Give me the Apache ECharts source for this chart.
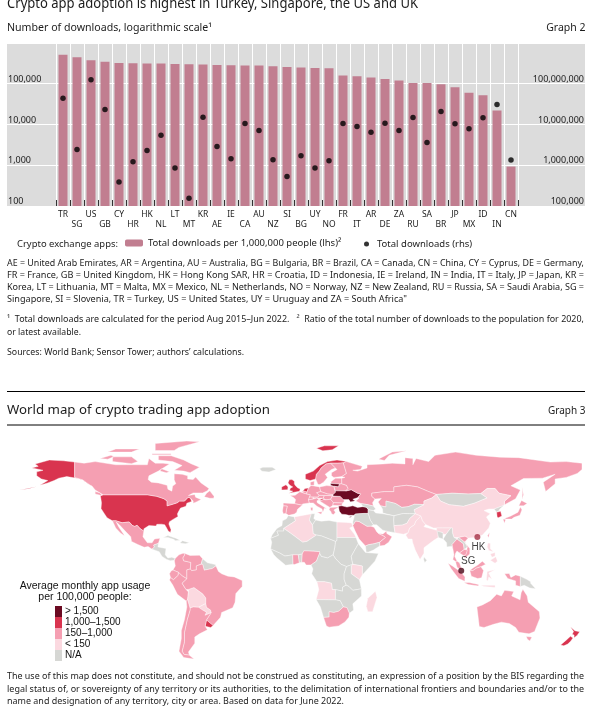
<!DOCTYPE html>
<html><head><meta charset="utf-8">
<style>html,body{margin:0;padding:0;background:#fff}#c{width:600px;height:713px}</style>
<script src="https://cdn.jsdelivr.net/npm/echarts@6/dist/echarts.min.js"></script>
</head><body><div id="c"></div>
<script>
const categories=['TR','SG','US','GB','CY','HR','HK','NL','LT','MT','KR','AE','IE','CA','AU','NZ','SI','BG','UY','NO','FR','IT','AR','DE','ZA','RU','SA','BR','JP','MX','ID','IN','CN'];
const perMillion=[518000,445000,376000,349000,324000,318000,312000,312000,306000,300000,295000,289000,284000,279000,279000,268000,258000,249000,244000,240000,159000,153000,142000,131000,120000,105000,105000,97000,82000,60000,52000,22000,930];
const totalDownloads=[44200000,2440000,126000000,23300000,387000,1220000,2310000,5480000,853000,154000,15100000,2890000,1440000,10600000,7130000,1360000,533000,1710000,853000,1290000,10600000,8900000,6490000,10800000,7130000,14800000,3620000,20800000,10400000,7830000,14600000,30900000,1340000];
const lhsTicks={100:'100',1000:'1,000',10000:'10,000',100000:'100,000'};
const rhsTicks={100000:'100,000',1000000:'1,000,000',10000000:'10,000,000',100000000:'100,000,000'};
const barName='Total downloads per 1,000,000 people (lhs)²';
const dotName='Total downloads (rhs)';
const usageClasses=[
 {value:4,label:'> 1,500',color:'#6b0a22'},
 {value:3,label:'1,000–1,500',color:'#d9344f'},
 {value:2,label:'150–1,000',color:'#f59fb2'},
 {value:1,label:'< 150',color:'#fbd9e0'},
 {value:0,label:'N/A',color:'#d6d7d4'}];
const labelledCities=[{name:'HK',value:[113.8,22.2],color:'#a52f45',labelPos:'bottom',labelOffset:[1,0]},{name:'SG',value:[103.6,0.9],color:'#4a0515',labelPos:'top',labelOffset:[7,0]}];
// [name, usage class, rings as "lon,lat ..." split by |]
const countries=[
['United States',3,'-168,66 -164,67 -166,68.5 -157,71 -148,70.5 -141,69.7 -141,60 -136,58.5 -131,55 -133,57 -137,59 -146,60.5 -151,59.5 -154,58 -158,56.5 -163,55 -158,58 -162,59 -165,61 -165,63.5 -161,64.5|-124.7,48.4 -123,49 -95,49 -89,48 -84.5,46.5 -82.5,45 -82.5,42 -79,43 -76,44 -74.7,45 -71.5,45 -69.2,47.4 -67.8,47 -67,44.8 -70,43.7 -70.6,41.7 -74,40.6 -75.5,38 -76,36.8 -75.6,35.2 -78,33.9 -81,32 -81.4,30.5 -80,26.8 -80.4,25.2 -81.8,26 -82.8,28 -84,30 -86,30.4 -89,30.3 -89.5,29.2 -94,29.5 -97.2,27.5 -97.2,26 -99.5,27.5 -101.5,29.7 -103,29 -104.5,29.6 -106.5,31.8 -111,31.3 -114.8,32.5 -117.1,32.5 -120.5,34.5 -122.5,37.5 -124.3,40.3 -124,44|-176,52 -170,52.8 -165,54.2 -170,53.2'],
['Canada',2,'-141,69.7 -135,69 -128,70 -115,68 -108,68 -95,68 -94,72 -90,69 -85,69 -81,68.5 -88,64 -94,61 -94.5,58.7 -92.5,57 -88,56.5 -82.5,55 -82,52.5 -79.5,51.3 -79,54.5 -77,56 -78,58.5 -78,62.3 -73,62 -69.5,61 -69.5,59 -66,58.7 -64.5,60.3 -61,56.5 -56,53 -57,51.5 -60,50.2 -66,50.2 -69,48.5 -65,49.2 -64.5,47.5 -61,46 -64,44.5 -66,43.6 -66,45 -67.8,47 -69.2,47.4 -71.5,45 -74.7,45 -76,44 -79,43 -82.5,42 -82.5,45 -84.5,46.5 -89,48 -95,49 -123,49 -128,52 -130,54.5 -131,55 -136,58.5 -141,60|-59,47.7 -55.5,46.8 -53,46.8 -52.8,48 -55.5,51.5 -57.5,50|-62,66.5 -68,63 -72,64 -78,64.5 -73,67.5 -79,70 -88,71 -88,73.7 -80,73.7 -72,71 -67,68.5|-117,70 -105,68.7 -101,70 -105,73 -117,73|-125,72 -118,74 -116,73.2 -120,71.5|-90,77 -78,77 -75,79 -62,82.5 -70,83 -90,81.5|-92,75 -80,75 -80,74.3 -92,74.3|-120,76 -105,76 -100,78 -115,78|-128,49.5 -123.5,48.4 -125,50.3 -128,51|-86,65.5 -81,63.5 -83,63 -87,64'],
['Mexico',2,'-117.1,32.5 -114.8,32.5 -111,31.3 -106.5,31.8 -104.5,29.6 -103,29 -101.5,29.7 -99.5,27.5 -97.2,26 -97.8,22.5 -95,18.6 -92,18.6 -90.5,21 -87,21.5 -88,18.3 -89,17.9 -91,17.2 -90.5,16 -92,14.6 -94.5,16.2 -97,15.8 -101,17.5 -105,19.5 -105.5,22.5 -109,26 -112.7,30 -114.7,31.7 -113,28.5 -110,24 -109.5,23 -112,24.8 -115,28'],
['Central America',0,'-92,14.6 -90.5,16 -91,17.2 -89,17.9 -88,18.3 -88.3,16 -83.2,15 -83.7,11 -82,9 -79.5,9.5 -77.4,8.7 -78,7.5 -80.5,7.3 -83,8.2 -85.7,10 -87.5,13'],
['Caribbean',0,'-85,22 -82,23.2 -77,21.5 -74.2,20.2 -77.5,19.9 -78,20.7 -82,22|-74.4,18.5 -72.8,19.9 -68.4,18.7 -71,18'],
['Colombia',2,'-77.4,8.7 -75,11 -72,12.2 -71.3,11 -72.5,9 -72,7.2 -67.5,6.2 -67.8,2 -70,1.5 -70,-4.2 -73,-2.3 -75.3,-0.1 -78.8,1.4 -77.3,4 -77.9,7.2'],
['Venezuela',2,'-72,12.2 -68,10.6 -62,10.7 -60,8.5 -61,5 -64,4 -64,1.4 -67,1 -67.8,2 -67.5,6.2 -72,7.2 -72.5,9 -71.3,11'],
['Guianas',0,'-60,8.5 -57,6 -52,4.8 -51.6,4 -54,2.3 -59,1.3 -60,5 -61,5'],
['Ecuador',2,'-78.8,1.4 -75.3,-0.1 -75.5,-2 -78.5,-4.8 -80.3,-3.4 -81,-1 -80,0.8'],
['Peru',2,'-81,-5 -80.3,-3.4 -78.5,-4.8 -75.5,-2 -75.3,-0.1 -73,-2.3 -70,-4.2 -73,-7 -70.5,-11 -69,-12.5 -69.5,-17.5 -70.4,-18.3 -76,-14 -79,-8'],
['Bolivia',1,'-69,-10.9 -65.5,-9.7 -60,-13.7 -58,-16.3 -58,-19.8 -62.6,-22.2 -66,-22 -68,-22.7 -69.5,-17.5 -69,-12.5'],
['Paraguay',1,'-58,-19.8 -57.6,-22.2 -55,-24 -54.6,-25.6 -58.5,-27.3 -57.6,-25.3 -60,-24 -62.6,-22.2'],
['Brazil',2,'-51.6,4 -50,0.5 -48,-1 -44,-2.5 -40,-3 -35,-5.3 -35,-9 -39,-13.5 -39.5,-19 -41,-22.5 -48,-25.5 -48.7,-28.5 -53.4,-33.8 -57.6,-30.2 -54.6,-25.6 -55,-24 -57.6,-22.2 -58,-19.8 -58,-16.3 -60,-13.7 -65.5,-9.7 -69,-10.9 -70.5,-11 -73,-7 -70,-4.2 -70,1.5 -67.8,2 -67,1 -64,1.4 -64,4 -61,5 -60,5 -59,1.3 -54,2.3'],
['Uruguay',3,'-57.6,-30.2 -53.4,-33.8 -54.9,-35 -58.4,-34.2'],
['Argentina',2,'-66,-22 -62.6,-22.2 -60,-24 -57.6,-25.3 -58.5,-27.3 -54.6,-25.6 -57.6,-30.2 -58.4,-34.2 -57,-36.5 -62,-39 -65,-41 -65,-45 -69,-50.5 -68.4,-52.5 -71.8,-52 -73,-50 -71.5,-44 -71.5,-38 -69.8,-30 -68,-24 -68,-22.7'],
['Chile',2,'-70.4,-18.3 -69.5,-17.5 -68,-22.7 -68,-24 -69.8,-30 -71.5,-38 -71.5,-44 -73,-50 -71.8,-52 -68.4,-52.5 -65.5,-55 -72,-54 -75,-50 -73.5,-42 -73.5,-37 -71.5,-30 -70,-22'],
['Iceland',0,'-24,65.5 -22,66.4 -16,66.5 -13.6,65 -18,63.4 -22.5,63.9'],
['United Kingdom',3,'-5.5,50 1.3,51.2 1.7,52.7 0,53.5 -1.5,55 -2,56 -2,57.6 -3.5,58.6 -5.2,58.5 -6,56.5 -4.8,55 -3,54 -4.5,53.2 -5,51.7 -3,51.3'],
['Ireland',3,'-10,52 -6.2,52.2 -6,54 -5.5,54.6 -7.3,55.3 -10,54'],
['France',2,'-4.7,48.5 -1.5,48.7 1.5,50.9 4.2,50 8.2,49 7.6,47.6 7,45.9 7.5,43.8 3.2,43.2 3,42.4 -1.8,43.4 -1.2,46 -2.5,47.3'],
['Spain',2,'-9,43.8 -1.8,43.4 3,42.4 0,39.8 -0.5,38 -2,36.8 -5.5,36 -7.4,37.2 -7,39.5 -6.5,41.8 -9,42'],
['Portugal',2,'-9,42 -6.5,41.8 -7,39.5 -7.4,37.2 -9,37 -9.5,38.8'],
['Belgium',2,'2.5,51 4.2,51.4 6,50.8 5.8,49.5 4.2,50'],
['Netherlands',3,'3.4,51.4 4.7,53 7,53.3 6,50.8 4.2,51.4'],
['Germany',2,'7,53.3 8.6,54.9 14,54 14.7,51 12.1,50.3 13.7,48.7 13,47.5 7.6,47.6 8.2,49 5.8,49.5 6,50.8'],
['Denmark',2,'8.2,55 8.1,57 10.6,57.7 10.5,55'],
['Switzerland',2,'7.6,47.6 10,47.5 9.6,46.2 7,45.9'],
['Austria',2,'10,47.5 13,47.5 13.7,48.7 17,48.6 16.3,46.8 10,46.8'],
['Italy',2,'7,45.9 9.6,46.2 12.3,47 13.7,45.7 12.3,45.2 12.5,44 15.8,41.9 18.5,40.2 17,40.5 16.5,39 16,38 15.5,40 12.3,41.8 10,43.8 7.5,43.8|12.5,38 15.6,38.2 15,36.7|8.3,41 9.7,41 9.6,39 8.5,39'],
['Poland',2,'14,54 18.5,54.8 23,54.4 24,50.5 22.5,49.1 19,49.5 14.7,51'],
['Czechia and Slovakia',2,'12.1,50.3 14.7,51 19,49.5 22.5,49.1 22,48.4 17,48.6 13.7,48.7'],
['Hungary',2,'16.3,46.8 17,48.6 22,48.4 21,46.2 18,45.8'],
['Slovenia',3,'13.7,45.7 16.3,46.8 16.5,46 15,45.4'],
['Western Balkans',2,'13.7,45.5 15,45.4 16.5,46 18,45.8 21,46.2 22.7,44.3 22.4,42.3 20.5,41 19.3,41.8 18,42.6 15,44.5'],
['Romania and Moldova',2,'21,46.2 22,48 27,48 29,46 29.7,45 28.6,43.8 22.7,44'],
['Bulgaria',2,'22.7,44 28.6,43.8 27.8,42 22.4,42.3'],
['Greece',2,'20,39.5 20.5,41 26.2,41.3 24,40 23,39.3 24,38 23,36.5 21.7,36.8 21,38.5'],
['Turkey',4,'26.2,40 26,41.8 28,42 31.3,41.2 35,42 38,41 41.5,41.5 43.6,41.1 44.7,39.7 44.7,37.2 42,37.2 36.5,36.8 36,36 32.5,36 30.5,36.5 28,36.7 26.5,38.5'],
['Cyprus',4,'32.3,34.7 34.5,35.6 33.8,34.8'],
['Norway',3,'5,59 5,62 10,64 14,67.5 19,70 25,71 31,70 29,69.2 25.5,69 21,69 18,68.5 15,66 13.8,64 12,62 11.5,59 8,58|12,78.5 17,80 26,80 22,77.5 16,76.8'],
['Sweden',2,'11.5,59 12,62 13.8,64 15,66 18,68.5 21,69 24,66 21.5,65 17.5,62 19,60 16.5,57 14.2,55.5 13,55.5'],
['Finland',2,'21,69 25.5,69 29,69.2 31,62.5 28,60.5 23,60 21.5,61 21.5,63 25,65 24,66'],
['Estonia and Latvia',2,'21,56.2 21.5,57.5 24,59.5 28,59.5 28,56 26.5,55.8'],
['Lithuania',4,'21,56.2 26.5,55.8 26,54 23,54.4 21,55'],
['Belarus',2,'23,54.4 26,54 26.5,55.8 28,56 31,55 32,53 30.5,51.4 24,51.5'],
['Ukraine',4,'24,51.5 30.5,51.4 34,52.2 38,50 40,49.6 38.2,47.2 35,46.2 36.5,45.3 33.5,44.5 32.5,46 30.5,46 29,46 27,48 22.5,48.2 22.5,49.1 24,50.5'],
['Russia',2,'28,59.5 30,60 28,60.5 31,62.5 29,69.2 31,70 41,67 40,65 35,64.5 38,64 44,66 44,68 54,68.5 60,69 68,68.5 68,72.5 73,72 73,68 75,72 83,70 87,74 100,76 113,74 128,72.8 140,72.5 160,69.7 170,70 180,69 180,65 177,62.5 170,60 163,59 163,56 157,51 155.5,57 163,62 155,59.5 143,59.3 135,54.7 141,52 138,46.5 131,42.7 130.7,42.3 131,45 135,48.4 127.5,50 125,53 120,53 116,49.8 108,49.5 98,50 87.8,49.2 83,51 76,54 69,55 61,54 61,51 55,51 47,50 47,48 49,46.3 47.5,44 48,41.9 44,42.8 40,43.5 37,45 39,47 38.2,47.2 40,49.6 38,50 34,52.2 30.5,51.4 32,53 31,55 28,56|142,54 143,49 142,46 142.3,50|51.5,71.5 55,70.7 58,74 69,76.8 60,76 52,72'],
['Kazakhstan',2,'47,50 55,51 61,51 61,54 69,55 76,54 83,51 87.8,49.2 85,47 80,45 80,42.8 74,43 70,41.5 66,41 62,43.5 56,45 56,41.3 52.5,42 51,44.5 53,46.7 49,46.3 47,48'],
['Mongolia',0,'87.8,49.2 98,50 108,49.5 116,49.8 120,47 112,43.7 105,41.7 96,42.7 90.5,45'],
['China',1,'73.7,39.5 80,42.8 80,45 85,47 87.8,49.2 90.5,45 96,42.7 105,41.7 112,43.7 120,47 116,49.8 120,53 125,53 127.5,50 135,48.4 131,45 130.7,42.3 124.4,40 121,40 118,39 122,37 119.5,35 122,31 121,28 117,23.5 113,22 108,21.6 106,22.8 102,22 99,22 98,25 98,28 92,28 86,28 81,30.2 79,32.5 78,35.5 74.5,37'],
['Taiwan',2,'120.2,23 121.5,25.2 121,22'],
['North Korea',0,'124.4,40 130.7,42.3 128,40 127.5,39 126,38'],
['South Korea',3,'126,38 128.5,38.5 129.3,35.5 127,34.5 126.3,35'],
['Japan',2,'130.9,34 135,35.6 139.5,38 141,41.3 142,39.5 140.7,36 137,34.7 135.5,33.6 132,33.6|140,42 141.7,45.4 145.3,43.5 143,42|130,33.5 131.7,33.5 131,31'],
['Central Asia',0,'52.5,42 56,41.3 56,45 62,43.5 66,41 70,41.5 74,43 80,42.8 73.7,39.5 74.5,37 71,37 67,37.2 61,35.7 54,37.4 53.8,40'],
['Afghanistan',0,'61,35.7 67,37.2 71,37 74.5,37 71,34 69.3,31 66.3,29.8 61,29.5 60.8,33'],
['Iran',0,'44.7,39.7 48,39 49.5,37.5 54,37 54,37.4 61,35.7 60.8,33 61,29.5 61.7,25 57,25.8 54,26.6 50,30 48,30 46,33 44.7,37.2'],
['Caucasus',0,'40,43.5 44,42.8 48,41.9 49.5,40 48,39 44.7,39.7 43.6,41.1 41.5,41.5'],
['Levant and Iraq',0,'36,36 36.5,36.8 42,37.2 44.7,37.2 46,33 48,30 46.5,29.1 44,29 39,32 36.8,32.3 35,29.5 35,32 35.8,34.7'],
['Saudi Arabia',2,'35,29.5 36.8,32.3 39,32 44,29 46.5,29.1 48.4,28.5 50.2,25.5 51.3,24.5 55,22.7 55.7,22 52,19 48.5,18 45,17.4 43,16.6 42.5,16.6 39,21 36.5,26'],
['UAE and Oman',2,'51.3,24.5 54,24.2 56.3,26 56.5,24.5 59.8,22.5 57.7,19 55,17 52,16.6 52,19 55.7,22 55,22.7'],
['Yemen',0,'43,16.6 45,17.4 48.5,18 52,19 52,16.6 48,14 45,12.8 43.5,12.7'],
['Pakistan',1,'61,29.5 66.3,29.8 69.3,31 71,34 74.5,37 78,35.5 75,32.5 74,30 71,28 70,25 67,24 61.7,25'],
['India',1,'68.5,23.5 70,25 71,28 74,30 75,32.5 78,35.5 79,32.5 81,30.2 80,28.8 88,26.5 88,28 92,28 97,28 94,24 92,24 92,25 89,25.5 89,22 86,20 80,15.5 80,12 77.5,8 74.5,14 72.8,19 72.5,21 70,21'],
['Bangladesh',0,'88.3,26 92,25 92,21 89.2,22'],
['Sri Lanka',0,'80,9.7 81.8,7.5 80.5,6 79.8,8'],
['Myanmar',0,'92.2,21 94,24 97,28 98,28 98,25 99,22 101,21 100,20 97.8,17.5 99,11 98.5,14 97.5,16.5 94.5,16 94.3,18.7'],
['Thailand',2,'101,21 105,18 105.5,14.4 102.5,12.2 100.9,13.4 100,12 99.5,10 101,7 100,6.7 98.3,8 99,11 97.8,17.5 100,20'],
['Laos',0,'101,21 102,22 106,19 107.5,16 105.5,14.4 105,18'],
['Vietnam',2,'102,22 106,22.8 108,21.6 105.7,19 109,15 109,11.5 106,9 105,10 106.5,11.5 107.5,16 106,19'],
['Cambodia',2,'102.5,12.2 105.5,14.4 107.5,14 106.5,11 105,10.5'],
['Malaysia',2,'100,6.7 101,7 102.5,6 103.5,3 104.2,1.4 101,3 100.4,5|109,1 111,2.7 114,4.5 117,7 119,5 116,3.5 113,2.5 111,1'],
['Indonesia',2,'95.3,5.6 98,4 103.5,0 106,-3 105.8,-5.8 102,-4 100,-1.5 97,2.5|105.3,-6.5 108.5,-6.5 114.5,-7.8 114.5,-8.7 108,-7.8|109,1 111,1 113,2.5 116,3.5 117.7,1 116.5,-3.5 114,-4 110,-2.5|131,-1 134,-0.8 135,-3.3 138,-1.7 141,-2.6 141,-9.1 138,-8.2 138,-5.5 133,-4'],
['Sulawesi and Timor',1,'119.5,-5 120,0.5 125,1.5 121,-0.5 123,-4.5 121,-3 120.5,-5.5|116,-8.3 125,-8.3 125,-9.7 118,-9'],
['Philippines',1,'120.5,18.5 122,18.3 122,14.8 124,13 121,13.8 120,16|122,7.5 125.5,9.8 126.5,7 125,5.7|122,11.5 125,12.5 125,10.2 123,9.5'],
['Papua New Guinea',0,'141,-2.6 145,-4.5 147.5,-6 147.5,-7 150.7,-10.5 147,-10 143.5,-8.3 141,-9.1'],
['Australia',2,'113.5,-22 114,-26 115,-34.3 118,-35 124,-33 129,-31.6 134,-32.5 138,-35 140,-38 146.5,-39 150,-37.5 153.4,-29 153,-25 149.5,-22 146,-19 145.3,-15 142.6,-10.8 141.5,-13 140.8,-17.5 135.5,-15 136.8,-12.2 131,-11.5 129,-15 126,-14 122,-18 117,-20.7|144.7,-40.7 148.3,-41 147,-43.5 145.5,-42.5'],
['New Zealand',3,'172.7,-34.5 175.5,-37 178.5,-37.7 176.9,-40 175,-41.5 175,-39.8 173.8,-39.3 174.7,-37.5|172.7,-40.5 174.3,-41.7 172.8,-43.7 171,-45.5 168.5,-46.6 166.5,-46 170,-43'],
['Morocco',0,'-5.9,35.8 -2,35 -1.3,32.5 -8.7,27.7 -8.7,26 -13,26 -12,23.4 -17,21.4 -16,23.7 -13,27.7 -9.8,29.5 -9.5,32.5 -7,33.8'],
['Algeria',1,'-2,35 9,37 8.6,36.5 7.5,33 9.5,30 10,24.5 12,23.5 6,19.5 3.3,19 -4.8,25 -8.7,27.7 -1.3,32.5'],
['Tunisia',0,'9,37 11,37 10.3,34 11.5,33 9.5,30 7.5,33 8.6,36.5'],
['Libya',0,'11.5,33 15,32.3 20,32.8 25,31.7 25,20 24,19.5 15,23 12,23.5 10,24.5 9.5,30'],
['Egypt',1,'25,31.7 31,31.5 34.2,31.2 35,29 33,28 36,24 37,22 25,22'],
['Sudan',0,'25,22 37,22 38.5,18 36.5,14.5 34,10 35,5 31,3.6 27.5,5 24,8.7 22.5,11 23.5,15.5 24,19.5 25,20'],
['Sahel',0,'-17,21.4 -12,23.4 -13,26 -8.7,26 -8.7,27.7 -4.8,25 3.3,19 6,19.5 12,23.5 15,23 24,19.5 23.5,15.5 22.5,11 19,9 15,10 14,12 14,13 10,13.3 4,13.5 3,11.5 0.5,11 -3,11 -8,10.2 -11,12 -17,14.7 -16.3,19'],
['West Coast',0,'-17,14.7 -11,12 -8,10.2 -3,11 -2.8,5 -7.5,4.4 -13,9 -15,11'],
['Ghana',2,'-3,11 0.5,11 1.2,6 -2,4.8 -2.8,5'],
['Togo and Benin',0,'0.5,11 3,11.5 2.7,6.3 1.2,6'],
['Nigeria',2,'2.7,6.3 3,11.5 4,13.5 10,13.3 14,13 14,12 12,7 8.6,4.6 5.5,4.5 4.3,6.3'],
['Central Africa',0,'8.6,4.6 12,7 14,12 15,10 19,9 22.5,11 24,8.7 27.5,5 31,3.6 29.5,-1 29.5,-4.5 30.8,-8.2 28.5,-9.5 28.5,-12 24,-11 22,-11 21.5,-7 17,-6 12.3,-6 11,-4 9,-1 9.8,2'],
['Horn of Africa',0,'38.5,18 43,12.5 51.2,11.8 49,7 41,-1.7 41,3.9 35,5 34,10 36.5,14.5'],
['Kenya',1,'35,5 41,3.9 41,-1.7 39.2,-4.7 34,-1 34,4'],
['East Africa',0,'31,3.6 35,5 34,4 34,-1 39.2,-4.7 40.4,-10.5 35,-11.5 32.5,-9 30.8,-8.2 29.5,-4.5 29.5,-1'],
['Angola',1,'12.3,-6 17,-6 21.5,-7 22,-11 24,-11 24,-17.5 11.8,-17.3 13.5,-11'],
['Southeast Africa',0,'28.5,-9.5 30.8,-8.2 32.5,-9 35,-11.5 40.4,-10.5 40.5,-15 35,-20 35.5,-24 32.8,-26 31.3,-22.4 29,-22 27,-18 24,-17.5 24,-11 28.5,-12'],
['Namibia and Botswana',0,'11.8,-17.3 24,-17.5 27,-18 29,-22 26,-24.7 23,-25.5 20,-25 20,-28.4 16.5,-28.6 14.5,-22'],
['South Africa',2,'16.5,-28.6 20,-28.4 20,-25 23,-25.5 26,-24.7 29,-22 31.3,-22.4 32.8,-26 32.5,-28.5 30,-31.5 26,-34 20,-34.8 18.3,-34'],
['Madagascar',1,'49.3,-12 50.3,-16 47.5,-25 44.5,-25 43.5,-21.5 44.5,-16.5']
];
const legendNoteLines=[
['AE = United Arab Emirates, AR = Argentina, AU = Australia, BG = Bulgaria, BR = Brazil, CA = Canada, CN = China, CY = Cyprus, DE = Germany,',577,263.5],
['FR = France, GB = United Kingdom, HK = Hong Kong SAR, HR = Croatia, ID = Indonesia, IE = Ireland, IN = India, IT = Italy, JP = Japan, KR =',577,275.5],
['Korea, LT = Lithuania, MT = Malta, MX = Mexico, NL = Netherlands, NO = Norway, NZ = New Zealand, RU = Russia, SA = Saudi Arabia, SG =',577,287],
['Singapore, SI = Slovenia, TR = Turkey, US = United States, UY = Uruguay and ZA = South Africa"',400,299],
['¹  Total downloads are calculated for the period Aug 2015–Jun 2022.   ²  Ratio of the total number of downloads to the population for 2020,',577,319.5],
['or latest available.',74,332.5],
['Sources: World Bank; Sensor Tower; authors’ calculations.',237,352],
['The use of this map does not constitute, and should not be construed as constituting, an expression of a position by the BIS regarding the',577,676],
['legal status of, or sovereignty of any territory or its authorities, to the delimitation of international frontiers and boundaries and/or to the',577,689],
['name and designation of any territory, city or area. Based on data for June 2022.',337,701.5]];

const FONT='"Noto Sans"';
const ctx=document.createElement('canvas').getContext('2d');
function fit(text,x,y,size,w){ctx.font=size+'px '+FONT;const m=ctx.measureText(text).width;
 return {type:'text',x:x,y:y,scaleX:w?w/m:1,silent:true,style:{text:text,font:size+'px '+FONT,fill:'#1c1c1c',verticalAlign:'middle',align:'left'}};}
function right(text,x,y,size){return {type:'text',x:x,y:y,silent:true,style:{text:text,font:size+'px '+FONT,fill:'#1c1c1c',verticalAlign:'middle',align:'right'}};}
function rule(y){return {type:'line',silent:true,shape:{x1:7,y1:y,x2:585,y2:y},style:{stroke:'#000',lineWidth:1}};}

const features=countries.map(c=>({type:'Feature',properties:{name:c[0]},geometry:{type:'MultiPolygon',
 coordinates:c[2].split('|').map(r=>{const p=r.trim().split(/\s+/).map(s=>s.split(',').map(Number));p.push(p[0]);return [p];})}}));
echarts.registerMap('world',{type:'FeatureCollection',features:features});

const chart=echarts.init(document.getElementById('c'),null,{renderer:'canvas'});
const graphics=[
 fit('Crypto app adoption is highest in Turkey, Singapore, the US and UK',7,4.5,14,411),
 fit('Number of downloads, logarithmic scale¹',7,28,10.5,205),
 right('Graph 2',585.5,28,10.5),
 fit('Crypto exchange apps:',17,244.5,9.5,101),
 rule(391.5),rule(425),
 fit('World map of crypto trading app adoption',7,410.5,13,263),
 right('Graph 3',585.5,411,10),
 {type:'text',x:85,y:586,silent:true,style:{text:'Average monthly app usage',font:'10.5px "Liberation Sans"',fill:'#111',align:'center',verticalAlign:'middle'}},
 {type:'text',x:85,y:597,silent:true,style:{text:'per 100,000 people:',font:'10.5px "Liberation Sans"',fill:'#111',align:'center',verticalAlign:'middle'}}
].concat(legendNoteLines.map(l=>fit(l[0],7,l[2],9,l[1])));

const legendText={fontFamily:FONT,fontSize:9.5,color:'#1c1c1c'};
chart.setOption({
 animation:false,
 backgroundColor:'#fff',
 graphic:{elements:graphics},
 legend:[
  {left:125,top:238,itemWidth:18,itemHeight:7,data:[barName],textStyle:legendText,selectedMode:false,padding:0},
  {left:364,top:239,itemWidth:5,itemHeight:5,data:[{name:dotName,icon:'circle',itemStyle:{color:'#000'}}],
   textStyle:Object.assign({padding:[0,0,0,3]},legendText),selectedMode:false,padding:0}],
 grid:[
  {left:7,top:43,width:578,height:163,show:true,backgroundColor:'#dcdcdc',borderWidth:0},
  {left:56,top:43,width:462,height:163}],
 xAxis:[
  {gridIndex:0,type:'value',min:0,max:1,show:false},
  {gridIndex:1,type:'category',data:categories,boundaryGap:true,
   axisLine:{show:false},axisTick:{show:true,inside:true,length:6,lineStyle:{color:'#333',width:1},alignWithLabel:false,interval:0},
   splitLine:{show:true,interval:0,lineStyle:{color:'#fff',width:1}},
   axisLabel:{interval:0,margin:3,fontFamily:FONT,fontSize:8.5,lineHeight:10.5,color:'#1c1c1c',hideOverlap:false,
    formatter:(v,i)=>i%2?'\n'+v:v}}],
 yAxis:[
  {gridIndex:0,type:'log',logBase:10,min:100,max:1e6,position:'left',axisLine:{show:false},axisTick:{show:false},
   splitLine:{show:true,lineStyle:{color:'#fff',width:1}},minorSplitLine:{show:false},
   axisLabel:{inside:true,margin:1,verticalAlign:'bottom',fontFamily:FONT,fontSize:9,color:'#1c1c1c',formatter:v=>lhsTicks[Math.round(v)]||''}},
  {gridIndex:0,type:'log',logBase:10,min:1e5,max:1e9,position:'right',axisLine:{show:false},axisTick:{show:false},splitLine:{show:false},
   axisLabel:{inside:true,margin:1,verticalAlign:'bottom',fontFamily:FONT,fontSize:9,color:'#1c1c1c',formatter:v=>rhsTicks[Math.round(v)]||''}},
  {gridIndex:1,type:'log',logBase:10,min:100,max:1e6,show:false},
  {gridIndex:1,type:'log',logBase:10,min:1e5,max:1e9,show:false,position:'right'}],
 geo:{map:'world',roam:false,silent:true,aspectScale:1,boundingCoords:[[-180,90],[180,-60]],
  left:13,top:430,width:569,height:237,
  itemStyle:{areaColor:'#d6d7d4',borderColor:'#fff',borderWidth:0.4},emphasis:{disabled:true},select:{disabled:true}},
 visualMap:{type:'piecewise',seriesIndex:2,left:55,top:606,itemWidth:7,itemHeight:11,itemGap:0,textGap:3,pieces:usageClasses,itemSymbol:'rect',
  orient:'vertical',hoverLink:false,selectedMode:false,align:'left',padding:0,
  textStyle:{fontFamily:'"Liberation Sans"',fontSize:10,color:'#111'}},
 series:[
  {name:barName,type:'bar',xAxisIndex:1,yAxisIndex:2,data:perMillion,barWidth:9,itemStyle:{color:'#c17e90'},z:2},
  {name:dotName,type:'scatter',xAxisIndex:1,yAxisIndex:3,data:totalDownloads,symbolSize:5.5,itemStyle:{color:'#000'},z:3},
  {name:'usage',type:'map',geoIndex:0,data:countries.map(c=>({name:c[0],value:c[1]}))},
  {name:'cities',type:'scatter',coordinateSystem:'geo',symbolSize:6,z:5,
   data:labelledCities.map(c=>({name:c.name,value:c.value,itemStyle:{color:c.color},
    label:{show:true,position:c.labelPos,offset:c.labelOffset,distance:2}})),
   label:{show:true,formatter:'{b}',fontFamily:'"Liberation Sans"',fontSize:10,color:'#111'}}
 ]
});
</script></body></html>
